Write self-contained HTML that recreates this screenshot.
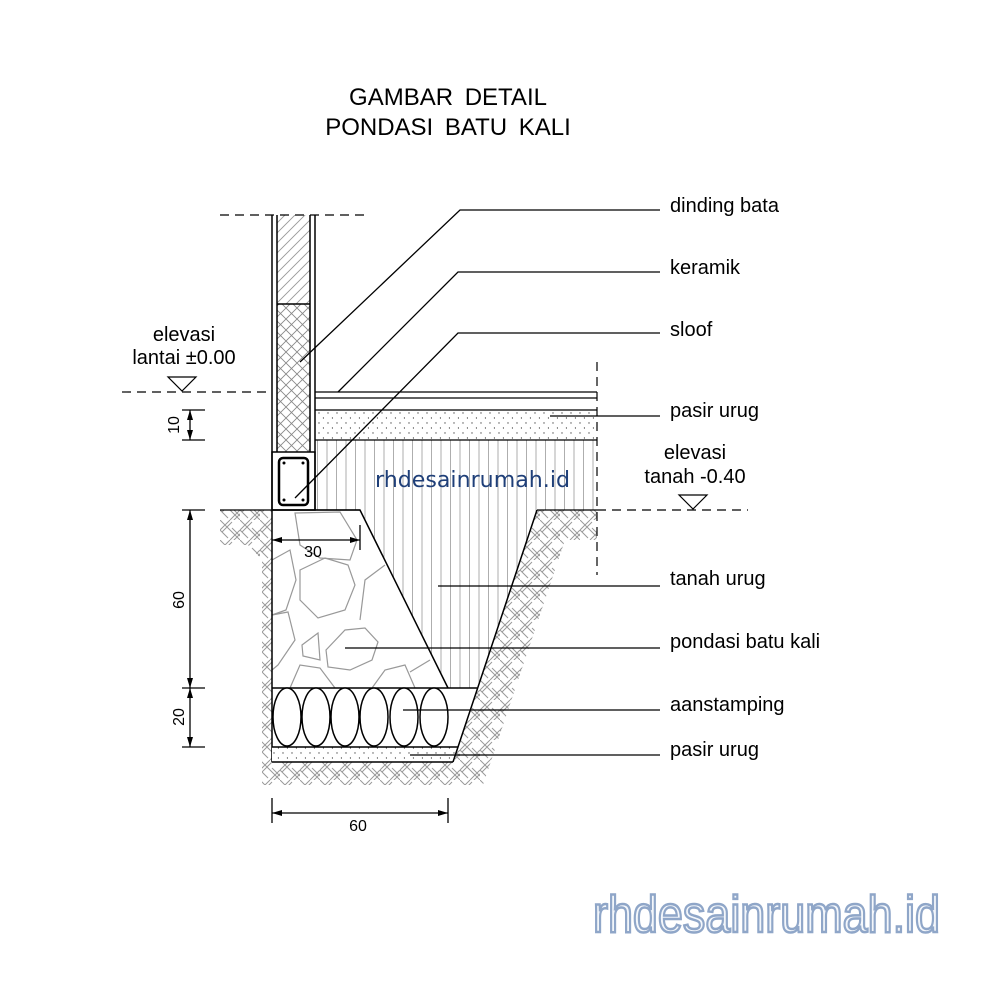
<!DOCTYPE html>
<html><head><meta charset="utf-8"><style>html,body{margin:0;padding:0;background:#fff}svg{display:block}</style></head>
<body>
<svg width="1000" height="1000" viewBox="0 0 1000 1000" xmlns="http://www.w3.org/2000/svg" font-family="Liberation Sans, Arial, sans-serif">
<defs>
<pattern id="diag" width="10" height="10" patternUnits="userSpaceOnUse"><path d="M0 10L10 0M-2 2L2 -2M8 12L12 8" stroke="#999" stroke-width="0.9"/></pattern>
<pattern id="cross" width="11" height="11" patternUnits="userSpaceOnUse"><path d="M0 11L11 0M0 0L11 11" stroke="#888" stroke-width="0.9"/></pattern>
<pattern id="dots" width="9" height="10" patternUnits="userSpaceOnUse"><circle cx="4" cy="3" r="0.7" fill="#555"/><circle cx="8.5" cy="8" r="0.7" fill="#555"/></pattern>
<pattern id="vert" width="9.5" height="10" patternUnits="userSpaceOnUse"><path d="M4 0V10" stroke="#999" stroke-width="0.8"/></pattern>
<pattern id="herr" width="20" height="20" patternUnits="userSpaceOnUse"><path d="M0 10L10 0M2 12L12 2M10 20L20 10M12 22L22 12M10 10L20 20M12 8L20 16M0 0L10 10M-2 8L8 18" stroke="#999" stroke-width="1" fill="none"/></pattern>
</defs>
<rect width="1000" height="1000" fill="#fff"/>
<text x="448" y="105" font-size="24" text-anchor="middle" word-spacing="5">GAMBAR DETAIL</text>
<text x="448" y="135" font-size="24" text-anchor="middle" word-spacing="5">PONDASI BATU KALI</text>

<path d="M220 510H272V762H453L537 510H597V540L565 540 483 785H262V560L248 545H220Z" fill="url(#herr)"/>
<path d="M315 440H597V510H537L477 688H448L360 510H315Z" fill="url(#vert)"/>
<g stroke="#999" stroke-width="1.2" fill="none">
<path d="M295 513L340 512 357 540 350 560 320 558 300 545Z"/>
<path d="M300 570L325 558 348 565 355 585 345 610 318 618 300 600Z"/>
<path d="M272 560L290 550 296 580 286 610 272 615"/>
<path d="M272 615L288 612 295 640 278 665 272 670"/>
<path d="M302 645L318 633 320 660 303 656Z"/>
<path d="M326 650L345 630 365 628 378 642 372 660 350 670 328 667Z"/>
<path d="M290 688L300 665 320 668 335 688"/>
<path d="M372 688L385 670 405 665 415 688"/>
<path d="M360 620L365 580 385 565"/>
<path d="M410 672L430 660"/>
</g>
<path d="M272 510H360L448 688" fill="none" stroke="#000" stroke-width="1.5"/>
<line x1="272" y1="510" x2="272" y2="762" stroke="#000" stroke-width="1.5"/>
<line x1="272" y1="688" x2="477" y2="688" stroke="#000" stroke-width="1.5"/>
<g fill="#fff" stroke="#000" stroke-width="1.5">
<ellipse cx="287" cy="717" rx="14" ry="29"/><ellipse cx="316" cy="717" rx="14" ry="29"/>
<ellipse cx="345" cy="717" rx="14" ry="29"/><ellipse cx="374" cy="717" rx="14" ry="29"/>
<ellipse cx="404" cy="717" rx="14" ry="29"/><ellipse cx="434" cy="717" rx="14" ry="29"/>
</g>
<path d="M272 688H477L458 747H272Z" fill="none"/>
<rect x="272" y="747" width="183" height="15" fill="#fff"/>
<rect x="272" y="747" width="183" height="15" fill="url(#dots)"/>
<path d="M272 747H458M272 762H453" stroke="#000" stroke-width="1.5"/>
<path d="M537 510L453 762" stroke="#000" stroke-width="1.5" fill="none"/>
<path d="M220 510H360M537 510H597" stroke="#000" stroke-width="1.3"/>

<rect x="277" y="215" width="33" height="89" fill="url(#diag)"/>
<rect x="277" y="304" width="33" height="148" fill="url(#cross)"/>
<g stroke="#000" stroke-width="1.5" fill="none">
<path d="M272 215V510M277 215V452M310 215V452M315 215V510"/>
<path d="M277 304H310"/>
<rect x="272" y="452" width="43" height="58"/>
<rect x="279" y="458" width="29" height="47" rx="4" stroke-width="2.5"/>
</g>
<g fill="#000"><circle cx="284" cy="463" r="1.5"/><circle cx="303" cy="463" r="1.5"/><circle cx="284" cy="500" r="1.5"/><circle cx="303" cy="500" r="1.5"/></g>
<rect x="315" y="410" width="282" height="30" fill="url(#dots)"/>
<path d="M315 392H597M315 398H597M315 410H597M315 440H597" stroke="#000" stroke-width="1.3"/>

<g stroke="#000" stroke-width="1.2" stroke-dasharray="9 6" fill="none">
<path d="M220 215H370"/>
<path d="M122 392H272"/>
<path d="M597 362V575"/>
<path d="M597 510H748"/>
</g>
<path d="M168 377H196L182 391Z" fill="#fff" stroke="#000" stroke-width="1.2"/>
<path d="M679 495H707L693 509Z" fill="#fff" stroke="#000" stroke-width="1.2"/>
<text x="184" y="341" font-size="20" text-anchor="middle">elevasi</text>
<text x="184" y="364" font-size="20" text-anchor="middle">lantai ±0.00</text>
<text x="695" y="459" font-size="20" text-anchor="middle">elevasi</text>
<text x="695" y="483" font-size="20" text-anchor="middle">tanah -0.40</text>

<g stroke="#000" stroke-width="1.3" fill="none">
<path d="M190 410V440M182 410H205M182 440H205"/>
<path d="M190 510V747M182 510H205M182 688H205M182 747H205"/>
<path d="M272 540H360M360 525V550"/>
<path d="M272 813H448M272 798V823M448 798V823"/>
</g>
<g fill="#000">
<path d="M190 410l-3 10h6z"/><path d="M190 440l-3 -10h6z"/>
<path d="M190 510l-3 10h6z"/><path d="M190 688l-3 -10h6z"/><path d="M190 688l-3 10h6z"/><path d="M190 747l-3 -10h6z"/>
<path d="M272 540l10 -3v6z"/><path d="M360 540l-10 -3v6z"/>
<path d="M272 813l10 -3v6z"/><path d="M448 813l-10 -3v6z"/>
</g>
<text transform="translate(179 425) rotate(-90)" font-size="16" text-anchor="middle">10</text>
<text transform="translate(184 600) rotate(-90)" font-size="16" text-anchor="middle">60</text>
<text transform="translate(184 717) rotate(-90)" font-size="16" text-anchor="middle">20</text>
<text x="313" y="557" font-size="16" text-anchor="middle">30</text>
<text x="358" y="831" font-size="16" text-anchor="middle">60</text>

<g stroke="#000" stroke-width="1.3" fill="none">
<path d="M300 362L460 210H660"/>
<path d="M338 392L458 272H660"/>
<path d="M295 498L458 333H660"/>
<path d="M550 416H660"/>
<path d="M438 586H660"/>
<path d="M345 648H660"/>
<path d="M403 710H660"/>
<path d="M410 755H660"/>
</g>
<g font-size="20">
<text x="670" y="212">dinding bata</text>
<text x="670" y="274">keramik</text>
<text x="670" y="336">sloof</text>
<text x="670" y="417">pasir urug</text>
<text x="670" y="585">tanah urug</text>
<text x="670" y="648">pondasi batu kali</text>
<text x="670" y="711">aanstamping</text>
<text x="670" y="756">pasir urug</text>
</g>
<text x="375" y="487" font-size="22" fill="#1f3f78" font-family="DejaVu Sans, sans-serif" textLength="195" lengthAdjust="spacingAndGlyphs">rhdesainrumah.id</text>
<text x="593" y="932" font-size="52" fill="#f4f7fb" stroke="#8fa6c8" stroke-width="2.5" font-family="Liberation Sans, sans-serif" textLength="347" lengthAdjust="spacingAndGlyphs">rhdesainrumah.id</text>
</svg>
</body></html>
